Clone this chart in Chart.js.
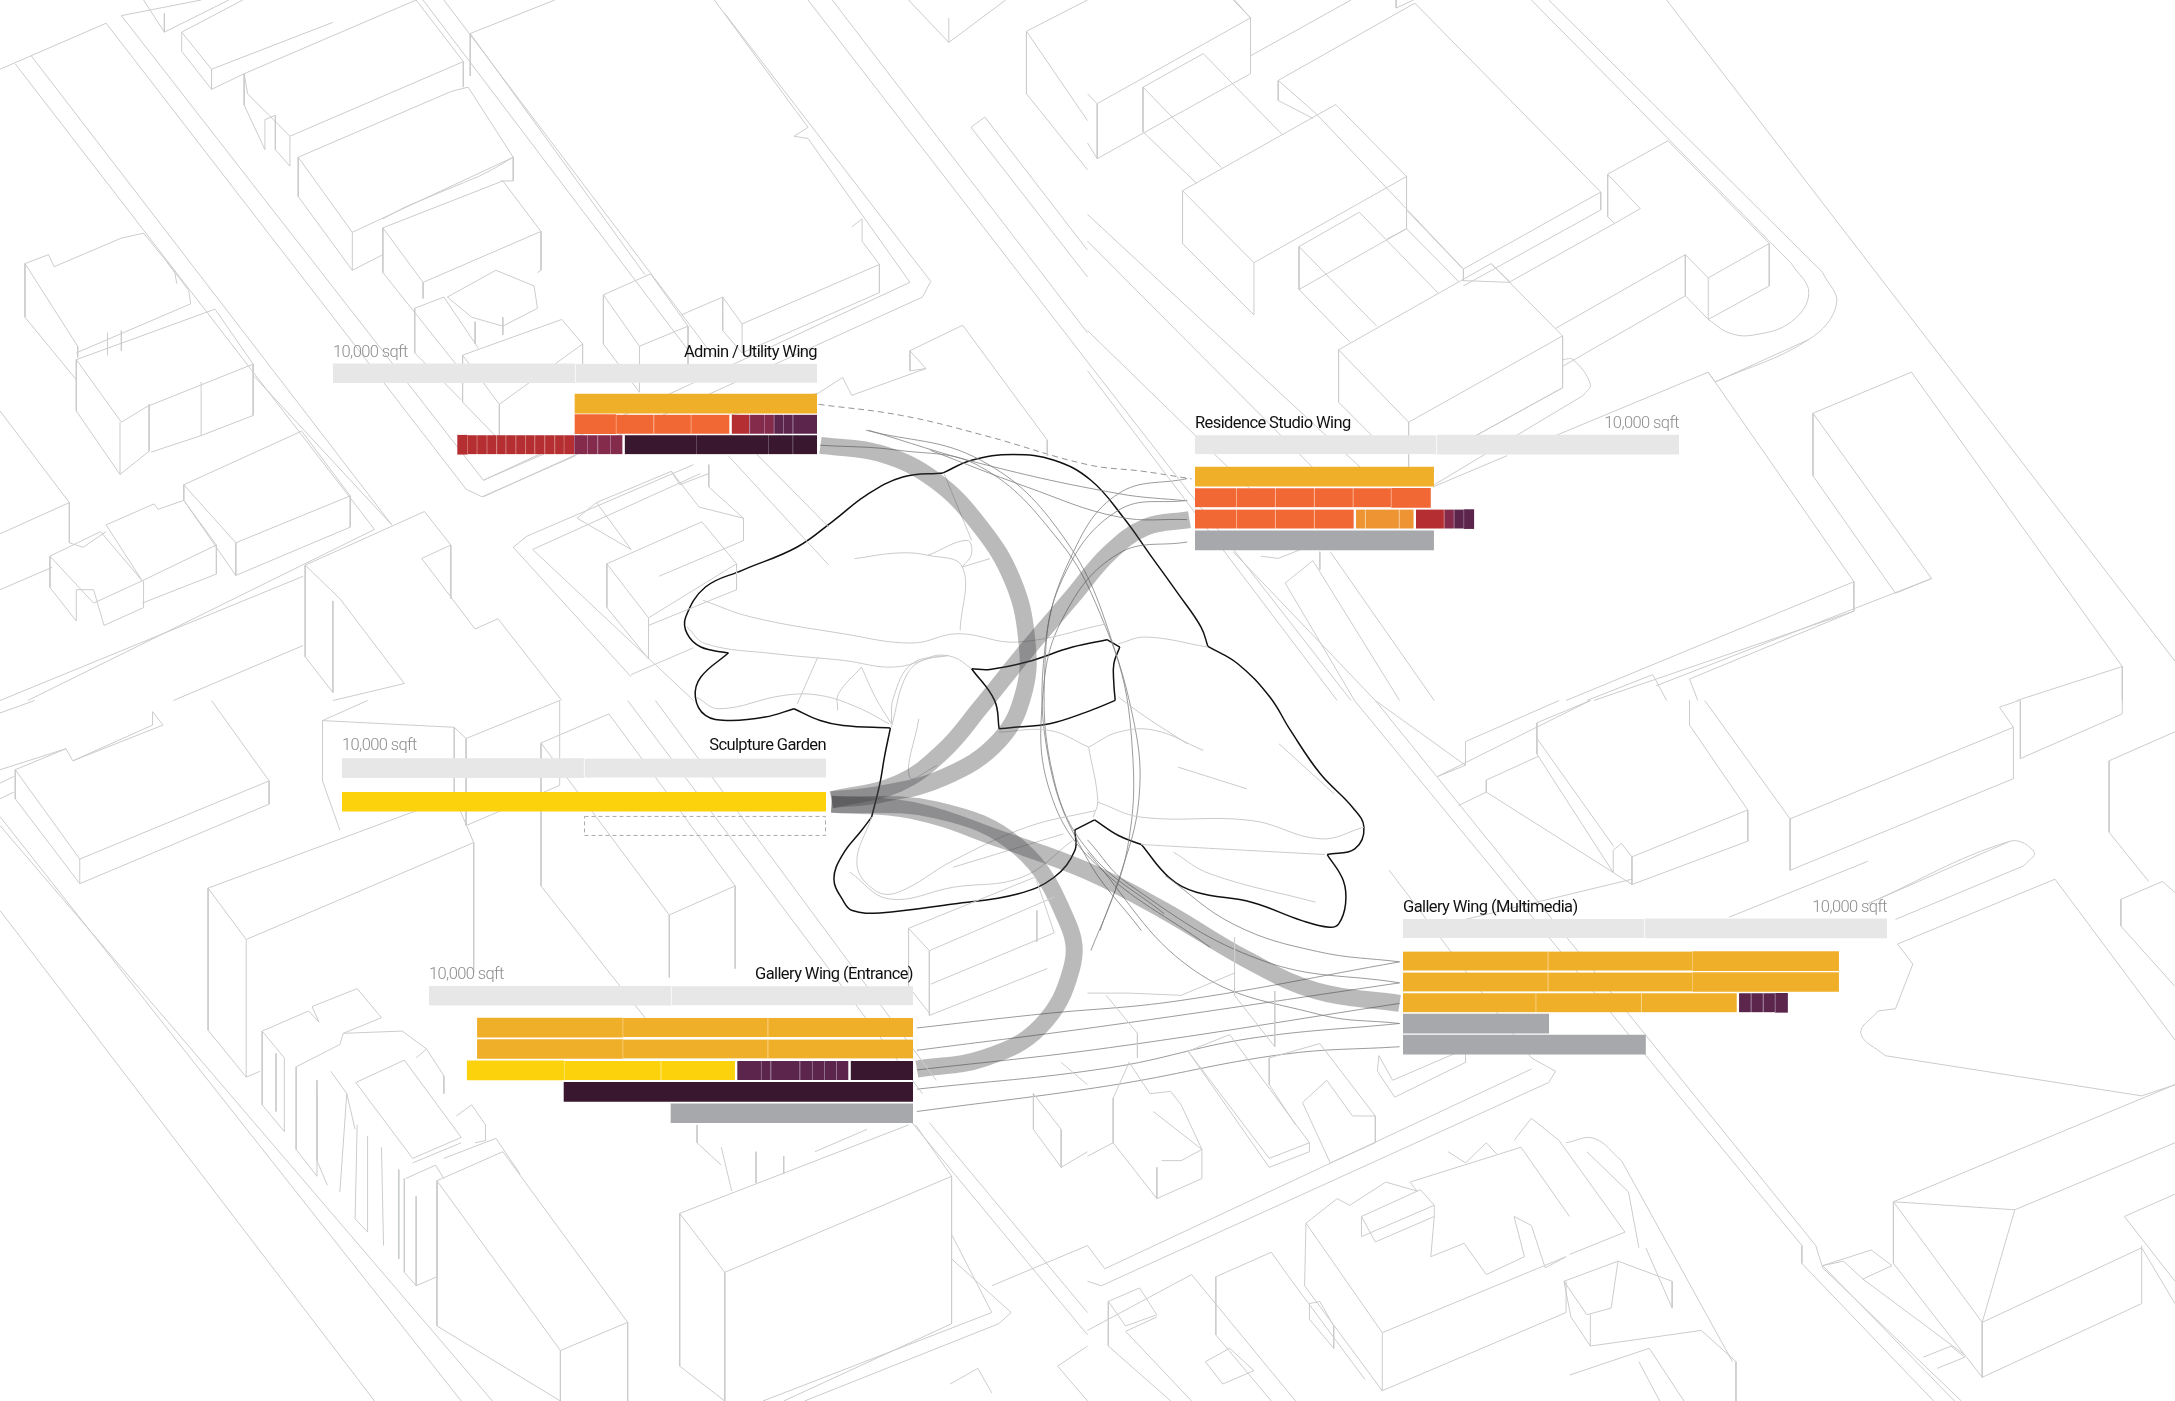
<!DOCTYPE html>
<html>
<head>
<meta charset="utf-8">
<title>Wing areas</title>
<script src="https://cdn.jsdelivr.net/npm/chart.js@4"></script>
<style>
  html, body { margin: 0; background: #fff; }
  #page { position: relative; width: 2175px; height: 1401px; overflow: hidden; }
  canvas { position: absolute; }
</style>
</head>
<body>
<div id="page"><canvas id="map" width="2175" height="1401"></canvas></div>
<script>
// wing areas, sqft. first row of every chart is the 10,000 sqft track
const trackValues = [5000, 5000];

const adminName = 'Admin / Utility Wing';
const adminValues = [
  [5000],
  [500, 200, 190, 200, 305, 410, 800, 770, 780, 845],
  [500, 505, 1490, 1520, 255, 263, 213, 270, 213, 192, 206, 206, 192, 199, 206, 192, 199, 206, 199, 199]
];
const adminKinds = ['g', 'pppmmroooo', 'ddddmmmmrrrrrrrrrrrr'];

const residenceName = 'Residence Studio Wing';
const residenceValues = [
  [4930],
  [860, 805, 805, 800, 790, 805],
  [860, 805, 805, 853, 200, 700, 337, 590, 205, 205, 200],
  [4930]
];
const residenceKinds = ['g', 'oooooo', 'ooooaaarmpp', 's'];

const gardenName = 'Sculpture Garden';
const gardenValues = [[10000], [5000]];
const gardenKinds = ['y', 'n'];

const entranceName = 'Gallery Wing (Entrance)';
const entranceValues = [
  [3000, 3000, 3000],
  [3000, 3000, 3000],
  [1330, 255, 250, 250, 255, 600, 200, 535, 1535, 2000, 2000],
  [7210],
  [5000]
];
const entranceKinds = ['ggg', 'ggg', 'dpppppppyyy', 'd', 's'];

const multimediaName = 'Gallery Wing (Multimedia)';
const multimediaValues = [
  [3000, 2990, 3010],
  [3000, 2990, 3010],
  [2750, 2180, 2010, 255, 250, 250, 250],
  [3010],
  [5010]
];
const multimediaKinds = ['ggg', 'ggg', 'gggpppp', 's', 's'];

const kindColors = { g: '#F0AF29', o: '#F26835', a: '#EE9433', y: '#FBD20B', r: '#B52E31', m: '#842B4B', p: '#5C254C', d: '#38172F', s: '#A7A8AB', t: '#E6E7E6', n: 'rgba(0,0,0,0)' };
const kindDividers = { g: '#F7CF7F', o: '#F9A680', a: '#F6C48A', y: '#FDE97F', r: '#D0706C', m: '#A9698A', p: '#9A7A98', d: '#63495C', s: '#A7A8AB', t: '#FFFFFF', n: '#FFFFFF' };
const kindGroups = { g: 1, o: 2, a: 3, y: 4, r: 5, m: 5, p: 5, d: 6, s: 7, t: 8, n: 9 };

// map sheet: every quadrant below is traced in its own 0-1568 square
const sheetSize = 3136;

const mapNW = [
  [0,155,153,52,672,1095,695,1112,830,1020],[175,35,290,0],[175,35,697,1075,830,985],[45,125,565,1175],[22,143,540,1185,40,1568],[437,1290,0,1568],[437,1445,250,1568],
  [0,1195,100,1125,100,1215,120,1225,153,1190],[0,920,100,1125],[0,1320,75,1270],[365,840,565,1175],
  [207,0,237,72,330,0],[237,30,237,72],[262,72,350,0],[262,72,305,155,305,200,262,115,262,72],[305,155,480,50],[305,200,352,165],
  [352,165,600,0,668,138,418,305,357,210,352,165,352,235,382,335,382,268,397,258,397,335,418,372,418,305],[668,138,668,195],
  [430,352,650,205,675,195,740,352,508,520,430,352,430,440,508,605,508,520],[740,352,740,405,722,405],[508,605,552,570],[552,490,582,465,620,440,690,395,715,375,740,352],
  [552,510,725,405,780,518,610,632,552,510,552,610,665,830],[780,518,780,605,775,610],[610,632,610,668],
  [645,665,715,605,770,640,775,690,725,730,680,710,645,665],[598,690,640,665,690,780],[598,690,598,790,665,895],[685,720,685,770],[725,710,725,750],
  [667,795,810,715,840,770,720,905,667,795,667,900,720,985],[720,905,720,985],[840,770,840,830],
  [870,660,938,613,992,730,922,775,870,660,870,770,922,878,922,775],[992,730,992,830],
  [982,705,1042,665,1070,725,1268,592,1243,540,1243,490,1228,508],[1042,665,1042,740,1070,790,1070,725],[1268,592,1268,655,1070,790],
  [678,75,800,0],[678,75,930,615],[678,75,678,170],[1030,0,1165,285,1145,305,1165,310,1312,632,697,1075],[1045,30,1342,630,1330,665,697,1112],
  [610,0,1000,800],[640,0,1030,800],[1165,0,1568,810],[1200,0,1568,745],[1310,0,1368,95,1450,0],[1368,95,1368,40],
  [1480,70,1568,0],[1480,70,1568,270],[1480,70,1480,210,1568,380],[1400,285,1420,262,1568,560],[1400,285,1568,620],
  [1312,785,1388,728,1510,985,1510,1020],[1312,785,1312,830,1335,825,1312,785],[1335,825,1228,885,1215,845,1180,880],[1000,950,1180,880],
  [875,1262,1012,1168,1062,1262,935,1383,875,1262,875,1360,935,1475,935,1383],[1062,1262,1062,1320,935,1400],
  [832,1160,860,1125,968,1055,1008,1135,1072,1160,1072,1210,950,1290],[832,1160,910,1230],[860,1125,910,1230],[968,1055,980,1085,1022,1060],[1022,1040,1022,1090,1072,1160],
  [740,1225,760,1200,1000,1040],[740,1225,910,1515],[768,1230,1010,1060],[768,1230,1000,1568],[1050,1020,1195,1265],[1090,1015,1195,1180],[910,1510,1000,1450],
  [36,590,70,570,78,597,175,533,207,522,240,585,272,650,275,680,110,790],[36,590,36,710,110,850],[36,590,112,775,112,800],[155,745,155,795],[175,740,175,785],[240,585,252,610,255,635],
  [110,805,310,692,365,815,212,910,175,945,110,805,110,920,173,1062,173,945],[365,815,365,930,290,975,290,855],[215,905,215,1010,173,1062],[290,975,218,1012],
  [265,1085,435,965,505,1110,340,1215,265,1085,265,1120],[340,1215,340,1288,265,1120],[505,1110,505,1180,340,1288],
  [153,1175,222,1128,228,1140,265,1120,312,1220,205,1300,153,1175],[312,1220,312,1285,205,1350],
  [72,1245,145,1190,205,1300,135,1350,72,1245,72,1315,110,1390,110,1320,135,1320,150,1400,207,1360,207,1300],
  [440,1265,612,1145,650,1220,608,1250,685,1408,718,1385,810,1568],[440,1265,490,1340,583,1530,480,1568],[440,1265,440,1470,480,1550],[480,1345,480,1550],[650,1220,650,1340]
];

const mapNE = [
  [14,232,235,40,212,0],[14,232,0,210],[14,232,14,355,235,165,235,40],[0,320,14,355],[235,125,380,0],[210,0,235,40],
  [80,195,167,120,280,300],[80,195,80,295,157,410],[80,195,193,375],
  [137,427,358,234,460,395,240,588,137,427,137,545,240,705,240,588],[460,395,460,512,305,648],
  [305,552,392,475,505,655],[305,552,305,648,378,765],[305,552,417,730],
  [362,783,582,590,685,752,463,945,362,783,362,900,410,975],[463,945,463,1060],[685,752,685,868,560,975],[582,590,610,632,540,628],
  [275,180,472,7,740,430,542,602,330,255],[275,180,275,225,325,265],[275,180,330,255],[740,430,740,470,542,640],[542,602,542,628],[460,470,540,600],[432,535,460,512,535,630],
  [445,0,445,18,470,0],
  [750,390,837,315,983,545,895,622,862,570,675,735],[750,390,750,485,760,500,797,467,750,390],[760,500,610,630],[983,545,983,640,895,715,895,622],[862,570,862,662,895,715],[862,662,685,820],
  [1015,590,640,0],[665,0,1060,610],[1040,760,905,855],
  [835,0,1568,1480],[675,975,895,833,1105,1302,690,1568],[1105,1302,1105,1368,730,1568],[895,833,905,855],
  [1046,925,1188,833,1492,1492,1492,1568],[1046,925,1217,1295,820,1535],[1046,925,1046,1065,1165,1328,1217,1295],[1492,1492,1340,1568],
  [868,1520,1105,1368],[868,1520,880,1568],[815,1510,720,1568],[815,1510,835,1568],
  [715,885,500,1085],[685,868,560,975],[605,1020,498,1090],
  [0,480,410,1070],[0,540,340,1070],[0,740,235,1095],[0,810,380,1568],[0,830,360,1568],[210,1235,415,1568],[350,1235,500,1568],[285,1305,325,1255,450,1568],[285,1305,385,1568],[250,1245,275,1250,335,1213],[335,1235,335,1275]
];

const mapSW = [
  [0,28,50,0],[22,155,95,108,105,135,220,55,220,25,235,55,105,135],[22,155,115,355,388,180,305,0],[22,155,22,220,115,410,115,355],[388,180,388,232,115,410],[0,155,95,108],[0,220,20,205],[0,185,20,170],
  [0,260,665,1568],[0,280,710,1568],[0,470,540,1568],
  [300,420,655,215,683,318,355,535,300,420,300,738,355,843,355,535],[683,318,683,610],[355,843,375,830],
  [465,45,530,0],[465,45,465,180,490,290],[655,60,672,85,807,0],[672,85,672,280,807,190,807,0],[655,60,655,245],[465,45,655,60],
  [780,95,878,30,1060,415,965,480,780,95,780,415,935,720],[965,480,965,620],[1060,415,1060,600],
  [905,0,1330,880],[945,0,1350,850],[1315,945,1568,1420],[1340,945,1568,1370],
  [980,1148,1045,1280,1372,1065,1320,950],[980,1148,980,1490,1045,1568],[1045,1280,1045,1568],[1372,1065,1372,1395,1130,1568],[980,1148,1310,950],
  [1372,1195,1430,1370,1100,1568],[1372,1250,1458,1370,1440,1395,1160,1568],
  [378,740,445,695,460,720,450,685,515,645,550,710,495,745,490,770,427,820],[378,740,378,905,410,965,410,800,378,740],[398,790,398,920],[427,820,427,1005,457,1065,457,880],[457,850,457,1030,472,1085],
  [477,830,500,880,490,1100],[500,880,512,960],[515,950,512,1160,530,1190,530,975],[550,1000,553,1220],[575,1050,575,1250],[583,1070,583,1280,600,1310,630,1290,630,1080],[600,1110,600,1310],
  [513,855,583,805,665,978,595,1025,513,855],[595,1035,665,990],[585,1070,628,1040,640,1070],[495,745,580,740,615,780],
  [630,1075,725,1010,905,1392,808,1455,630,1075,630,1400,808,1568],[808,1455,808,1568],[905,1392,905,1568],[640,1025,715,980,750,1060],
  [600,800,615,780,640,840,640,880],[658,930,680,905,700,950,700,985,685,990],
  [1040,1000,1055,1098],[1090,1010,1090,1080],[1005,950,1005,990,1040,1040],[1130,1020,1130,1060],[1175,1010,1250,960],
  [1310,510,1493,395,1520,520,1342,635],[1310,510,1340,560,1520,440],[1310,510,1310,640,1340,700],[1340,560,1340,705,1510,600],[1495,470,1495,540],
  [1370,1530,1410,1495,1430,1550],[1525,1490,1568,1445],[1525,1490,1568,1568],[1430,1310,1568,1220],
  [1490,880,1530,960,1530,1045,1568,1010],[1490,880,1490,960,1530,1045],[1530,810,1568,860]
];

const mapSE = [
  [385,0,1030,1220,1030,1260,1220,1568],[415,0,1050,1220,1060,1270,1260,1568],
  [505,170,725,0],[545,92,680,0],[415,0,545,145,545,92],[545,145,505,170],[535,235,575,205],
  [648,50,725,0],[648,50,648,120,758,385],[648,85,758,325],[890,0,1013,265,1335,60,1315,15,1343,0],[1013,265,1013,380,1335,175,1335,60],
  [575,178,650,125],[575,178,575,205,758,385],[868,0,868,55,952,245,785,350,770,320],[952,245,952,315,785,412,758,385,758,335,770,320],[785,350,785,412],[505,505,785,400],
  [1345,0,1345,130,1492,30,1492,0],[1473,135,1568,70],[1473,135,1473,295,1530,405],[1490,445,1550,405,1568,430],[1490,445,1490,505,1568,640],
  [1395,400,1168,545,1190,590,1165,690,1140,695],[1150,795,1520,885,1568,860],[1395,400,1568,760],
  [1125,455,1330,315],[1165,490,1350,370],[925,485,1125,360],
  [420,795,440,850,545,780,545,810,443,888,418,830,420,795],[435,380,640,800,675,830,665,855,20,1310,0,1300],[640,825,25,1272,0,1220],
  [315,1170,360,1115,378,1130,430,1078,475,1098,465,1078,625,1000,695,1155],[315,1170,425,1415,690,1245],[315,1170,313,1310,425,1545,425,1415],[425,1545,690,1370,690,1300],
  [395,1155,480,1095,500,1130,395,1200,395,1155],[395,1155,415,1212,500,1155,500,1130],[500,1155,495,1245,543,1215,575,1285,630,1245,615,1155,640,1175,660,1270,690,1245],
  [615,985,640,935,680,985,775,1190,695,1240],[770,1030,930,1480],[720,1010,780,1100,795,1225],[520,1010,545,1035,575,990,590,1015],
  [687,1300,765,1255,843,1300,843,1360,805,1225],[687,1300,720,1375,755,1360,765,1255],[687,1300,697,1380,725,1445,725,1375],[725,1445,885,1410,935,1480,935,1568],[795,1480,825,1568],[695,1510,810,1450,860,1568],
  [1162,1122,1337,1140,1290,1392,1162,1122,1568,860],[1337,1140,1568,990],[1290,1392,1290,1515,1520,1350,1520,1220],[1290,1392,1520,1225],[1162,1122,1162,1260,1290,1515],[1495,1155,1568,1105],[1495,1155,1568,1300],[1520,1225,1568,1350],
  [1060,1265,1130,1230,1160,1265,1118,1295,1090,1255,1060,1265,1250,1568],[1118,1295,1265,1465],[1205,1470,1245,1445,1265,1470,1225,1495],
  [0,1020,37,990,100,1115,165,1070,165,1005,135,905,120,875,90,880,60,810,37,890,37,990],[100,1045,100,1115],[95,920,165,1005],[107,1030,135,1030,165,1005],
  [145,785,205,748,320,990,262,1025,145,785],[145,785,262,1045,320,1010,320,990],[262,800,335,768,415,930,415,990,350,1035,310,900,345,850,382,930,415,930],[262,800,262,860,300,950],
  [30,1345,75,1315,100,1375,55,1400,30,1345],[30,1345,30,1445,120,1568],[100,1380,55,1412,150,1568],[150,1285,300,1568],[185,1290,265,1235,295,1300,400,1520],[185,1290,185,1420,265,1568],[0,1410,150,1285],
  [170,1480,205,1450,240,1500,195,1530,170,1480],[320,1350,335,1345,355,1400,355,1450,320,1385,320,1350],
  [212,530,212,660,270,775],[270,650,270,775],[135,660,212,610],[0,655,60,655,135,660],[27,660,72,745,72,800]
];

// rounded road ends, sheet units
const mapCurves = [
  [2463,715,2493,745,2528,750,2583,720,2608,655,2583,590],[2628,610,2648,680,2608,760,2473,855],
  [2253,805,2268,805,2293,860,2283,885],
  [2708,2263,2683,2313,2718,2363],[2693,2023,2898,1883,2933,1908,2918,1938],
  [2258,2558,2298,2548,2338,2598]
];

// museum traced on its own detail crop, museumView turns it into sheet units
const museumView = [951, 963, 0.6616, 0.7467];
const museumOutline = [
  [150,668,90,650,60,610,57,560,100,470,180,420,300,350,380,270,450,195,530,140,618,128],
  [618,128,680,90,770,73,860,90,940,150,1010,260,1070,375,1130,490,1180,590,1195,648],
  [1195,648,1260,700,1330,800,1375,900,1440,1030,1510,1130,1535,1190,1515,1255,1455,1272],
  [1455,1272,1490,1350,1495,1420,1480,1480,1460,1490,1400,1470,1290,1415,1170,1385,1110,1340,1050,1242],
  [1050,1242,1000,1215,948,1168],[948,1168,905,1198],
  [905,1198,905,1260,860,1340,780,1390,640,1420,480,1447,420,1440,400,1410,380,1345,400,1270,440,1200,462,1160],
  [462,1160,480,1060,490,980,503,893],[503,893,400,885,350,870,293,835],
  [293,835,230,860,150,870,100,855,78,800,90,740,150,668],
  [680,715,720,717,800,695,900,650,975,628],[975,628,1003,650],[1003,650,990,700,990,760,993,810],
  [993,810,930,845,850,880,780,890,740,895],[740,895,730,810,680,715]
];
const museumContours = [
  [95,510,200,560,400,610,550,638,650,610,780,635,975,580],[60,590,100,640,250,670,400,690,510,710,600,680,630,675],
  [425,385,520,368,585,375,660,410,655,600],[585,375,670,330,680,370,660,410],[660,410,720,385],[620,130,680,330],
  [80,800,130,835,270,795,350,795,430,830,500,880],[440,710,390,790,388,840],[345,680,300,820],[440,710,470,800,505,880],
  [630,675,550,700,510,800,505,880],[680,715,640,680,590,680,540,730,505,890],[565,865,545,1040,605,1005],
  [1000,640,1060,620,1195,650],[935,950,1000,905,1080,900,1185,960],[935,950,850,900,740,905],[935,950,955,1110,945,1160],
  [955,1115,1050,1160,1290,1170,1440,1225,1535,1190],[1050,1242,1220,1255,1450,1272],[1130,1010,1280,1075],[1350,940,1470,1090],[1000,800,1060,860,1150,940],
  [1120,1265,1200,1330,1430,1415],[462,1160,430,1300,470,1380,520,1385,640,1290,800,1190,950,1140],[415,1325,500,1405,640,1370,790,1340,900,1230],[640,1310,880,1210]
];
const ringLines = [
  [350,45,520,60,700,110,870,330,960,550,1030,850,1045,1100,1000,1350,940,1560],
  [450,0,700,90,880,320,990,650,1030,950,1020,1250,960,1500],
  [1150,145,1000,190,900,370,840,650,850,1000,930,1280,1050,1500],
  [1150,210,1000,240,880,440,840,700,860,1050,940,1270,1100,1450],
  [1150,335,1000,370,880,560,835,800,850,1080,950,1300,1200,1550],
  [455,0,700,100,1000,190,1150,212],[590,60,800,170,1000,260,1150,268]
];

// flows between wings, already in sheet units
const flowRibbons = [
  [1183,997,1269,1015,1348,1075,1414,1180,1460,1299,1480,1426,1477,1545,1441,1657,1361,1740,1269,1778,1199,1790],
  [1715,1163,1652,1180,1599,1239,1546,1336,1480,1456,1414,1583,1361,1680,1295,1754,1199,1790],
  [1199,1800,1315,1814,1447,1881,1568,1950,1678,2038,1798,2148,1898,2218,2018,2246],
  [1199,1800,1350,1813,1470,1898,1540,2068,1545,2168,1500,2298,1420,2368,1322,2393]
];
const flowLines = [
  [1322,2301,1500,2270,1700,2240,2018,2153],[1322,2351,1600,2295,2018,2200],[1322,2395,1600,2345,2018,2246],
  [1322,2438,1600,2390,1800,2325,2018,2291],[1322,2488,1600,2430,1850,2360,2018,2343],
  [2018,2153,1900,2130,1780,2070,1680,1960],[2018,2200,1820,2150,1628,1980,1568,1880],[2018,2291,1900,2270,1720,2170,1568,1908]
];
const flowDashed = [1180,905,1300,930,1420,975,1568,1040,1648,1055,1718,1072];

// helpers
function toPoints(flat, ox = 0, oy = 0, sx = 1, sy = 1) {
  const pts = [];
  for (let i = 0; i < flat.length; i += 2) pts.push({ x: ox + flat[i] * sx, y: oy + flat[i + 1] * sy });
  return pts;
}

function lineSet(points, color, width, extra) {
  return Object.assign({ data: points, showLine: true, borderColor: color, borderWidth: width, pointRadius: 0, tension: 0, fill: false }, extra);
}

function buildMapDatasets() {
  const sets = [];
  const quarter = sheetSize / 2;
  const [mx, my, msx, msy] = museumView;
  [[mapNW, 0, 0], [mapNE, quarter, 0], [mapSW, 0, quarter], [mapSE, quarter, quarter]].forEach(([list, ox, oy]) => {
    list.forEach(flat => sets.push(lineSet(toPoints(flat, ox, oy), '#CBCCCC', 1)));
  });
  mapCurves.forEach(flat => sets.push(lineSet(toPoints(flat), '#CBCCCC', 1, { tension: 0.4 })));
  flowRibbons.forEach(flat => sets.push(lineSet(toPoints(flat), 'rgba(65,64,66,0.36)', 17, { tension: 0.4 })));
  museumContours.forEach(flat => sets.push(lineSet(toPoints(flat, mx, my, msx, msy), '#C9CACA', 1, { tension: 0.4 })));
  ringLines.forEach(flat => sets.push(lineSet(toPoints(flat, mx, my, msx, msy), '#808183', 0.8, { tension: 0.4 })));
  flowLines.forEach(flat => sets.push(lineSet(toPoints(flat), '#808183', 0.8, { tension: 0.4 })));
  sets.push(lineSet(toPoints(flowDashed), '#77787A', 0.8, { tension: 0.4, borderDash: [6, 4] }));
  museumOutline.forEach(flat => sets.push(lineSet(toPoints(flat, mx, my, msx, msy), '#111111', 1.5, { tension: 0.4 })));
  return sets;
}

new Chart(document.getElementById('map'), {
  type: 'scatter',
  data: { datasets: buildMapDatasets() },
  options: {
    responsive: false,
    animation: false,
    layout: { padding: 0, autoPadding: false },
    plugins: { legend: { display: false }, tooltip: { enabled: false } },
    scales: {
      x: { type: 'linear', min: 0, max: sheetSize, display: false },
      y: { type: 'linear', min: 0, max: sheetSize, reverse: true, display: false }
    }
  }
});

// draws a dashed box round bars flagged with dashed:true
const dashedBars = {
  id: 'dashedBars',
  beforeDraw(chart) {
    chart.ctx.letterSpacing = '-0.6px';
  },
  afterDatasetsDraw(chart) {
    const ctx = chart.ctx;
    chart.data.datasets.forEach((set, i) => {
      if (!set.dashed) return;
      chart.getDatasetMeta(i).data.forEach(bar => {
        const b = bar.getProps(['x', 'y', 'base', 'height'], true);
        ctx.save();
        ctx.setLineDash([4, 3]);
        ctx.strokeStyle = '#A9AAAC';
        ctx.lineWidth = 1;
        ctx.strokeRect(Math.min(b.x, b.base) + 0.5, b.y - b.height / 2, Math.abs(b.x - b.base) - 1, b.height);
        ctx.restore();
      });
    });
  }
};

function wingDatasets(values, kinds, rowAt, reversed) {
  const sets = [];
  const rows = [trackValues].concat(values);
  const rowKinds = ['tt'].concat(kinds);
  rows.forEach((row, r) => {
    row.forEach((v, i) => {
      const k = rowKinds[r][i];
      const next = rowKinds[r][i + 1];
      const edge = next ? (kindGroups[next] !== kindGroups[k] ? 2.5 : 1) : 0;
      sets.push({
        data: [{ x: v, y: rowAt(r) }],
        backgroundColor: kindColors[k],
        borderColor: edge > 1 ? '#FFFFFF' : kindDividers[k],
        borderWidth: { top: 0, bottom: 0, left: reversed ? edge : 0, right: reversed ? 0 : edge },
        borderSkipped: false,
        barThickness: 19,
        dashed: k === 'n'
      });
    });
  });
  return sets;
}

function drawWing(name, values, kinds, left, top, width, trackGap, pitch, reversed) {
  const labelBand = 30;
  const rowAt = r => r === 0 ? 0 : (trackGap + (r - 1) * pitch) / pitch;
  const lastRow = rowAt(values.length);
  const plotHeight = pitch * (lastRow + 1);
  const canvas = document.createElement('canvas');
  canvas.width = width;
  canvas.height = Math.round(labelBand + plotHeight);
  canvas.style.left = left + 'px';
  canvas.style.top = (top - pitch / 2 - labelBand) + 'px';
  document.getElementById('page').appendChild(canvas);
  const isName = c => c.tick && c.tick.value === 0;

  new Chart(canvas, {
    type: 'bar',
    data: { datasets: wingDatasets(values, kinds, rowAt, reversed) },
    plugins: [dashedBars],
    options: {
      indexAxis: 'y',
      responsive: false,
      animation: false,
      layout: { padding: 0, autoPadding: false },
      plugins: { legend: { display: false }, tooltip: { enabled: false } },
      scales: {
        x: {
          type: 'linear',
          position: 'top',
          stacked: true,
          reverse: reversed,
          min: 0,
          max: 10000,
          grid: { display: false, drawTicks: false },
          border: { display: false },
          afterBuildTicks(axis) { if (reversed) axis.ticks.reverse(); },
          afterFit(axis) { axis.height = labelBand; },
          ticks: {
            stepSize: 10000,
            autoSkip: false,
            maxRotation: 0,
            minRotation: 0,
            align: 'inner',
            padding: 0,
            callback: v => v === 0 ? name : v.toLocaleString('en-US') + ' sqft',
            color: c => isName(c) ? '#111111' : '#8C8D8E',
            font: c => ({ family: 'Roboto, sans-serif', size: 16.5, weight: isName(c) ? 400 : 300 })
          }
        },
        y: {
          type: 'linear',
          stacked: true,
          reverse: true,
          offset: false,
          bounds: 'data',
          min: -0.5,
          max: lastRow + 0.5,
          display: false
        }
      }
    }
  });
}

// name, values, kinds, track left, track centre y, track width, gap to first row, row pitch, grows leftwards
drawWing(adminName, adminValues, adminKinds, 333, 373.5, 484, 30.5, 20.6, true);
drawWing(residenceName, residenceValues, residenceKinds, 1195, 444.8, 484, 32, 21.3, false);
drawWing(gardenName, gardenValues, gardenKinds, 342, 768.2, 484, 33.5, 24, true);
drawWing(entranceName, entranceValues, entranceKinds, 428.5, 995.5, 484, 31.8, 21.4, true);
drawWing(multimediaName, multimediaValues, multimediaKinds, 1403, 928, 484, 32.7, 20.9, false);
</script>
</body>
</html>
